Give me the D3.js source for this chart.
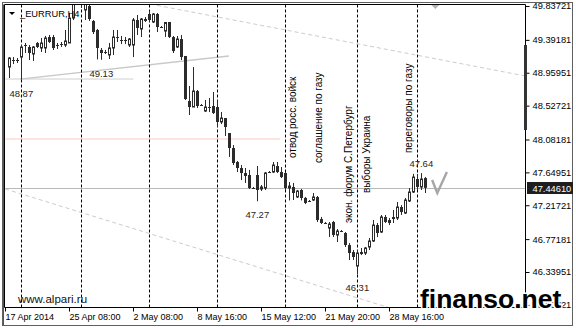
<!DOCTYPE html>
<html>
<head>
<meta charset="utf-8">
<script src="https://cdn.jsdelivr.net/npm/d3@7"></script>
<style>
  html, body { margin: 0; padding: 0; background: #fff; }
  svg { display: block; }
  text { font-family: "Liberation Sans", Arial, sans-serif; }
</style>
</head>
<body>
<svg id="chart" width="576" height="329"></svg>
<script>
// EURRUR H4 bars (bar 0 = first visible candle)
var openP = [49.035,49.127,49.127,49.166,49.324,49.298,49.206,49.351,49.285,49.285,
  49.429,49.429,49.324,49.337,49.324,49.351,49.679,49.982,50.021,49.785,
  49.837,49.640,49.522,49.259,49.232,49.193,49.285,49.429,49.390,49.390,
  49.324,49.324,49.653,49.535,49.666,49.732,49.627,49.732,49.561,49.508,
  49.627,49.429,49.298,49.403,49.180,48.588,48.509,48.719,48.535,48.456,
  48.509,48.522,48.509,48.312,48.364,48.167,47.970,47.786,47.707,47.641,
  47.615,47.444,47.615,47.431,47.444,47.654,47.654,47.733,47.654,47.641,
  47.444,47.457,47.326,47.418,47.313,47.273,47.286,47.326,47.036,46.984,
  46.918,46.997,46.826,46.878,46.852,46.694,46.602,46.418,46.602,46.589,
  46.668,46.747,46.957,46.865,47.063,47.023,47.063,47.049,47.194,47.115,
  47.273,47.391,47.562,47.457,47.575];
var highP = [49.166,49.166,49.153,49.324,49.351,49.324,49.311,49.364,49.416,49.443,
  49.456,49.456,49.351,49.364,49.522,49.745,50.074,50.179,50.113,49.916,
  49.890,49.653,49.535,49.285,49.259,49.351,49.522,49.522,49.443,49.429,
  49.416,49.679,49.719,49.679,49.692,49.771,49.745,49.745,49.574,49.627,
  49.627,49.443,49.443,49.456,49.180,48.785,49.035,48.733,48.548,48.601,
  48.627,48.706,48.601,48.443,48.364,48.167,48.009,47.799,47.746,47.707,
  47.681,47.457,47.733,47.483,47.654,47.667,47.786,47.786,47.720,47.654,
  47.523,47.510,47.418,47.431,47.326,47.286,47.378,47.339,47.063,46.997,
  46.997,47.010,46.905,46.891,46.865,46.720,46.629,46.629,46.655,46.668,
  46.786,47.023,46.984,47.089,47.089,47.049,47.155,47.260,47.220,47.313,
  47.444,47.630,47.630,47.640,47.588];
var lowP = [48.890,49.074,49.088,48.870,49.219,49.127,49.114,49.285,49.232,49.219,
  49.351,49.259,49.272,49.298,49.298,49.351,49.653,49.890,49.811,49.653,
  49.640,49.469,49.135,49.130,49.206,49.140,49.193,49.364,49.337,49.337,
  49.298,49.166,49.456,49.429,49.627,49.627,49.614,49.495,49.548,49.429,
  49.416,49.219,49.285,49.127,48.601,48.404,48.509,48.496,48.522,48.443,
  48.443,48.417,48.246,48.285,48.128,47.852,47.746,47.654,47.549,47.510,
  47.431,47.431,47.270,47.404,47.418,47.641,47.641,47.641,47.575,47.418,
  47.280,47.286,47.313,47.280,47.233,47.260,47.273,46.997,46.970,46.970,
  46.799,46.799,46.734,46.865,46.668,46.497,46.497,46.310,46.563,46.563,
  46.629,46.734,46.799,46.852,46.984,46.957,46.984,47.023,47.089,47.102,
  47.260,47.378,47.418,47.418,47.378];
var closeP = [49.153,49.127,49.127,49.298,49.324,49.219,49.298,49.298,49.351,49.416,
  49.364,49.285,49.324,49.337,49.377,49.679,49.982,50.021,49.942,49.863,
  49.666,49.495,49.285,49.219,49.232,49.285,49.429,49.416,49.390,49.390,
  49.403,49.653,49.548,49.666,49.640,49.653,49.732,49.561,49.561,49.620,
  49.429,49.245,49.403,49.166,48.614,48.509,48.719,48.522,48.535,48.509,
  48.509,48.430,48.312,48.364,48.246,47.970,47.773,47.707,47.641,47.602,
  47.444,47.444,47.418,47.457,47.641,47.654,47.746,47.654,47.588,47.444,
  47.470,47.378,47.404,47.313,47.247,47.273,47.326,47.023,46.984,46.984,
  46.970,46.826,46.878,46.878,46.694,46.589,46.537,46.589,46.576,46.655,
  46.747,46.957,46.852,47.063,46.997,46.984,47.036,47.194,47.128,47.286,
  47.391,47.588,47.457,47.562,47.4461];

var lastPrice = 47.44610;
var priceTicks = [49.83721, 49.39181, 48.95951, 48.52721, 48.08181, 47.64951,
  47.21721, 46.77181, 46.33951, 45.90721];
var timeLabels = ["17 Apr 2014", "25 Apr 08:00", "2 May 08:00", "8 May 16:00",
  "15 May 12:00", "21 May 20:00", "28 May 16:00"];
var timeLabelBars = [-1, 15, 31, 47, 63, 79, 95];

// vertical event lines (bar index)
var eventBars = [3, 18, 35, 52, 69, 87, 102];
// vertical notes: text, bar position of baseline, price at start of text
var noteTexts = ["отвод росс. войск", "соглашение по газу", "экон. форум С.Петербург",
  "выборы Украина", "переговоры по газу"];
var noteBars = [71.7, 78.2, 85.7, 90.2, 100.7];
var notePrices = [47.838, 47.772, 46.983, 47.378, 47.903];

// zigzag extreme labels
var extremeText = ["48.87", "49.13", "47.27", "46.31", "47.64"];
var extremeBars = [3, 23, 62, 87, 103];
var extremeSide = ["low", "low", "low", "low", "high"];

// drawn trend lines [bar1, price1, bar2, price2]
var upperChannel = [35.2, 49.863, 129, 48.917];
var lowerChannel = [-1, 47.431, 130, 45.30];
var supportLine = [2.7, 48.877, 54.9, 49.180];
var flatLine = [-1, 48.877, 31, 48.877];
var pinkLevel = [-1, 48.088, 67.7, 48.088];
var checkMark = [[105.7, 47.549], [107, 47.378], [109.4, 47.654]];
var sideBar = [49.324, 48.207];

(function(){
  var svg, width, height, plot, x, y, bars;
  var left = 4.5, top = 4.5, right = 525.5, bottom = 307.5;

  function init(){
    svg = d3.select("#chart");
    width = +svg.attr("width");
    height = +svg.attr("height");
    bars = d3.range(openP.length).map(function(i){
      return {i: i, o: openP[i], h: highP[i], l: lowP[i], c: closeP[i]};
    });
    x = d3.scaleLinear().domain([0, 104]).range([9.3, 425.3]);
    y = d3.scaleLinear().domain([49.83721, 46.33951]).range([6, 272]);
    drawFrame();
    drawObjects();
    drawCandles();
    drawAxes();
    drawTexts();
  }

  function px(i){ return Math.round(x(i)) + 0.5; }

  function drawFrame(){
    svg.append("rect").attr("width", width).attr("height", height).attr("fill", "#fff");
    svg.append("rect").attr("x", 2.5).attr("y", 2.5).attr("width", 570).attr("height", 323)
      .attr("fill", "none").attr("stroke", "#606060");

    svg.append("defs").append("clipPath").attr("id", "plotclip")
      .append("rect").attr("x", left + 0.5).attr("y", top + 0.5)
      .attr("width", right - left - 1).attr("height", bottom - top - 1);
    plot = svg.append("g").attr("clip-path", "url(#plotclip)");
  }

  function segment(g, s, color, w, dash){
    g.append("line")
      .attr("x1", x(s[0])).attr("y1", y(s[1]))
      .attr("x2", x(s[2])).attr("y2", y(s[3]))
      .attr("stroke", color).attr("stroke-width", w)
      .attr("stroke-dasharray", dash || null);
  }

  function drawObjects(){
    segment(plot, pinkLevel, "#ffe3e0", 2);
    plot.append("line")
      .attr("x1", left).attr("x2", right)
      .attr("y1", Math.round(y(lastPrice)) + 0.5).attr("y2", Math.round(y(lastPrice)) + 0.5)
      .attr("stroke", "#b8b8b8");
    segment(plot, flatLine, "#cfcfcf", 1);
    segment(plot, supportLine, "#c8c8c8", 1.3);
    segment(plot, upperChannel, "#cccccc", 1, "4,3");
    segment(plot, lowerChannel, "#cccccc", 1, "4,3");

    plot.selectAll("line.event").data(eventBars).enter()
      .append("line").attr("class", "event")
      .attr("x1", px).attr("x2", px)
      .attr("y1", top).attr("y2", bottom)
      .attr("stroke", "#000").attr("stroke-dasharray", "3,2");

    plot.append("path")
      .attr("d", d3.line().x(function(d){ return x(d[0]); }).y(function(d){ return y(d[1]); })(checkMark))
      .attr("fill", "none").attr("stroke", "#a6a6a6").attr("stroke-width", 2.4)
      .attr("stroke-linejoin", "miter");
  }

  function drawCandles(){
    var g = plot.append("g");
    var col = "#2b2b2b";

    g.selectAll("line.wick").data(bars).enter()
      .append("line").attr("class", "wick")
      .attr("x1", function(d){ return px(d.i); })
      .attr("x2", function(d){ return px(d.i); })
      .attr("y1", function(d){ return y(d.h); })
      .attr("y2", function(d){ return y(d.l); })
      .attr("stroke", col);

    g.selectAll("rect.body").data(bars.filter(function(d){ return d.c !== d.o; })).enter()
      .append("rect").attr("class", "body")
      .attr("x", function(d){ return d.c > d.o ? px(d.i) - 1 : px(d.i) - 1.5; })
      .attr("width", function(d){ return d.c > d.o ? 2 : 3; })
      .attr("y", function(d){ return y(Math.max(d.o, d.c)); })
      .attr("height", function(d){ return Math.max(1, y(Math.min(d.o, d.c)) - y(Math.max(d.o, d.c))); })
      .attr("fill", function(d){ return d.c > d.o ? "#fff" : col; })
      .attr("stroke", function(d){ return d.c > d.o ? col : "none"; });

    g.selectAll("line.doji").data(bars.filter(function(d){ return d.c === d.o; })).enter()
      .append("line").attr("class", "doji")
      .attr("x1", function(d){ return px(d.i) - 1.5; })
      .attr("x2", function(d){ return px(d.i) + 1.5; })
      .attr("y1", function(d){ return Math.round(y(d.o)) + 0.5; })
      .attr("y2", function(d){ return Math.round(y(d.o)) + 0.5; })
      .attr("stroke", col);
  }

  function drawAxes(){
    // plot border
    svg.append("path")
      .attr("d", "M" + left + "," + bottom + "V" + top + "H" + right + "V" + bottom + "H" + left)
      .attr("fill", "none").attr("stroke", "#000");
    svg.append("line").attr("x1", 3.5).attr("x2", 3.5).attr("y1", top).attr("y2", 325)
      .attr("stroke", "#555");

    var yAxis = d3.axisRight(y).tickValues(priceTicks).tickSize(4)
      .tickPadding(3).tickFormat(d3.format(".5f"));
    var ya = svg.append("g").attr("transform", "translate(" + right + ",0)").call(yAxis);
    ya.select(".domain").remove();
    ya.selectAll("text").attr("font-size", "9.3px").attr("fill", "#000")
      .attr("font-family", "'Liberation Sans', Arial, sans-serif");

    // scroll/side marker on the price axis
    svg.append("rect").attr("x", right - 1.5).attr("width", 3)
      .attr("y", y(sideBar[0])).attr("height", y(sideBar[1]) - y(sideBar[0]))
      .attr("fill", "#333");

    var xAxis = d3.axisBottom(x).tickValues(timeLabelBars).tickSize(4).tickPadding(2)
      .tickFormat(function(d, i){ return timeLabels[i]; });
    var xa = svg.append("g").attr("transform", "translate(0," + bottom + ")").call(xAxis);
    xa.select(".domain").remove();
    xa.selectAll(".tick").attr("transform", function(d){ return "translate(" + (Math.round(x(d)) + 0.5) + ",0)"; });
    xa.selectAll("text").attr("font-size", "9px").attr("fill", "#000")
      .attr("text-anchor", "start").attr("x", 0)
      .attr("font-family", "'Liberation Sans', Arial, sans-serif");

    // current price box
    var yc = Math.round(y(lastPrice));
    svg.append("rect").attr("x", 527).attr("y", yc - 6).attr("width", 46).attr("height", 12)
      .attr("fill", "#1e1e1e");
    svg.append("text").attr("x", 532.5).attr("y", yc + 3.5)
      .attr("font-size", "9.3px").attr("fill", "#fff").text(d3.format(".5f")(lastPrice));

    // chart shift marker
    var sx = x(106.5);
    svg.append("path").attr("d", "M" + (sx - 4) + ",5H" + (sx + 4) + "L" + sx + ",9Z")
      .attr("fill", "#b4b4b4");
  }

  function drawTexts(){
    // symbol caption
    svg.append("path").attr("d", "M9,12H15L12,15Z").attr("fill", "#000");
    svg.append("text").attr("x", 20).attr("y", 16.5).attr("font-size", "9.3px")
      .attr("fill", "#000").text("_EURRUR,H4");

    plot.selectAll("text.note").data(noteTexts).enter()
      .append("text").attr("class", "note")
      .attr("transform", function(d, i){
        return "translate(" + x(noteBars[i]) + "," + y(notePrices[i]) + ") rotate(-90)";
      })
      .attr("font-size", "10px").attr("fill", "#000")
      .text(function(d){ return d; });

    plot.selectAll("text.extreme").data(extremeText).enter()
      .append("text").attr("class", "extreme")
      .attr("x", function(d, i){ return x(extremeBars[i]); })
      .attr("y", function(d, i){
        var p = +d;
        return extremeSide[i] === "low" ? y(p) + 17 : y(p) - 6;
      })
      .attr("text-anchor", "middle").attr("font-size", "9.5px").attr("fill", "#2a2418")
      .text(function(d){ return d; });

    svg.append("text").attr("x", 18).attr("y", 302.5).attr("font-size", "11.5px")
      .attr("fill", "#111").text("www.alpari.ru");

    svg.append("text").attr("x", 420).attr("y", 308).attr("font-size", "26.5px")
      .attr("font-weight", "bold").attr("fill", "#000")
      .attr("stroke", "#fff").attr("stroke-width", 3).attr("paint-order", "stroke")
      .attr("stroke-linejoin", "round")
      .text("finanso.net");
  }

  init();
})();
</script>
</body>
</html>
